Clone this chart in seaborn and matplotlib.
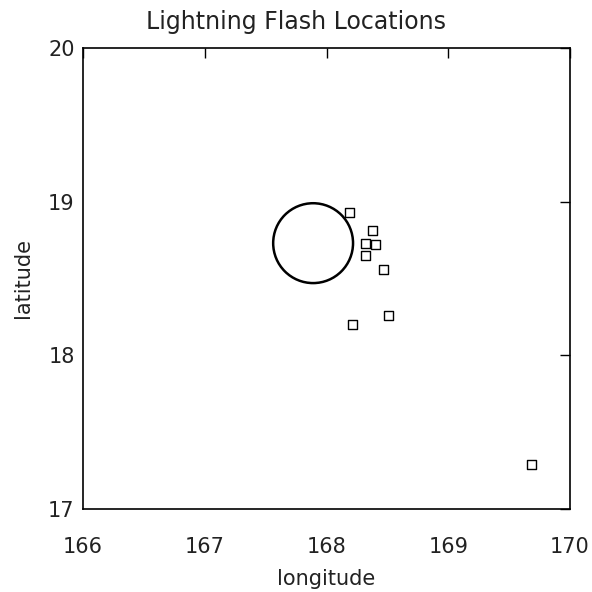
import matplotlib
matplotlib.use("Agg")
import matplotlib.pyplot as plt
import seaborn as sns
import pandas as pd

# Flash locations (degrees)
flash_lon = [168.19, 168.38, 168.32, 168.40, 168.32, 168.47, 168.51, 168.21, 169.68]
flash_lat = [18.93, 18.81, 18.73, 18.72, 18.65, 18.56, 18.26, 18.20, 17.29]

# Centre of the reference ring
ring_lon = [167.89]
ring_lat = [18.73]

x_ticks = [166, 167, 168, 169, 170]
y_ticks = [17, 18, 19, 20]

sns.set_theme(style="white")
plt.rcParams["font.family"] = ["DejaVu Sans"]

flashes = pd.DataFrame({"longitude": flash_lon, "latitude": flash_lat})
ring = pd.DataFrame({"longitude": ring_lon, "latitude": ring_lat})

fig = plt.figure(figsize=(5.92, 5.92), dpi=100)
ax = fig.add_axes([83 / 592, 83 / 592, 487 / 592, 461 / 592])

sns.scatterplot(data=flashes, x="longitude", y="latitude", marker="s", s=42,
                facecolor="none", edgecolor="black", linewidth=1.0, ax=ax)
sns.scatterplot(data=ring, x="longitude", y="latitude", marker="o", s=57.5 ** 2,
                facecolor="none", edgecolor="black", linewidth=1.8, ax=ax)

ax.set_xlim(166, 170)
ax.set_ylim(17, 20)
ax.set_xticks(x_ticks)
ax.set_yticks(y_ticks)
ax.set_xticklabels([str(t) for t in x_ticks])
ax.set_yticklabels([str(t) for t in y_ticks])

ax.tick_params(axis="both", direction="in", length=7, width=1.0, color="black",
               top=True, right=True, labelsize=15, labelcolor="#222222")
ax.tick_params(axis="x", pad=20)
ax.tick_params(axis="y", pad=6)

for side in ["left", "right", "top", "bottom"]:
    ax.spines[side].set_visible(True)
    ax.spines[side].set_color("black")
    ax.spines[side].set_linewidth(1.2)

ax.set_xlabel("longitude", fontsize=15, color="#222222", labelpad=9)
ax.set_ylabel("latitude", fontsize=15, color="#222222", labelpad=11)
ax.set_title("Lightning Flash Locations", fontsize=17, color="#222222",
             pad=14, x=(296 - 83) / 487)

fig.savefig("out.png", dpi=100, facecolor="white")
